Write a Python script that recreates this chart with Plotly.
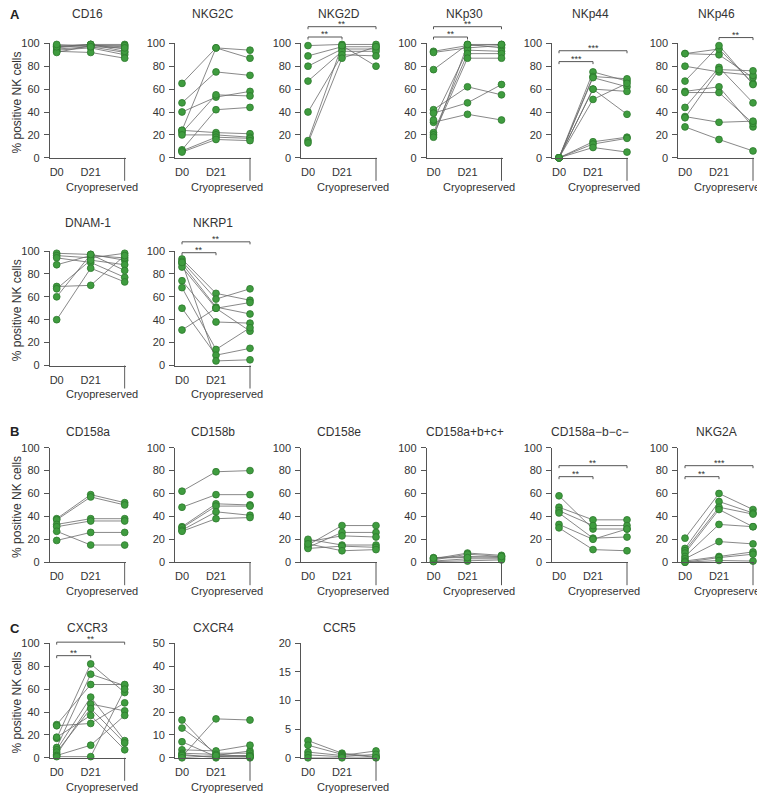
import plotly.graph_objects as go

CATEGORIES = ["D0", "D21", "Cryopreserved"]

# ---------------- Panel A ----------------
CD16_D0 = [98, 97, 96, 95, 94, 93, 92, 97, 99]
CD16_D21 = [99, 98, 99, 97, 96, 92, 98, 99, 97]
CD16_CRYO = [99, 97, 95, 92, 90, 87, 98, 93, 96]

NKG2C_D0 = [65, 24, 48, 40, 22, 7, 24, 20, 6, 5]
NKG2C_D21 = [96, 96, 75, 53, 55, 42, 22, 20, 18, 16]
NKG2C_CRYO = [94, 87, 72, 58, 54, 44, 21, 18, 17, 15]

NKG2D_D0 = [98, 89, 80, 67, 40, 15, 13]
NKG2D_D21 = [99, 97, 95, 93, 90, 98, 87]
NKG2D_CRYO = [99, 97, 95, 93, 89, 80, 97]

NKP30_D0 = [93, 92, 77, 42, 39, 31, 33, 22, 20, 18]
NKP30_D21 = [98, 96, 99, 62, 48, 38, 94, 91, 87, 99]
NKP30_CRYO = [99, 98, 96, 55, 64, 33, 93, 91, 87, 99]

NKP44_D0 = [0, 0, 0, 0, 0, 0, 0, 0, 0]
NKP44_D21 = [75, 71, 70, 60, 60, 51, 14, 12, 9]
NKP44_CRYO = [67, 69, 62, 38, 58, 65, 18, 17, 5]

NKP46_D0 = [91, 91, 80, 67, 58, 57, 44, 36, 35, 27]
NKP46_D21 = [90, 95, 75, 98, 62, 57, 79, 31, 77, 16]
NKP46_CRYO = [70, 65, 72, 64, 27, 30, 48, 32, 76, 6]

DNAM1_D0 = [98, 96, 94, 88, 69, 67, 60, 40]
DNAM1_D21 = [97, 94, 90, 96, 70, 92, 97, 85]
DNAM1_CRYO = [92, 98, 77, 94, 96, 88, 83, 73]

NKRP1_D0 = [93, 91, 89, 86, 74, 68, 50, 31, 90]
NKRP1_D21 = [63, 58, 51, 50, 38, 14, 9, 50, 4]
NKRP1_CRYO = [57, 67, 45, 30, 37, 33, 15, 55, 5]

# ---------------- Panel B ----------------
CD158A_D0 = [38, 37, 33, 31, 19, 27]
CD158A_D21 = [59, 57, 38, 36, 26, 15]
CD158A_CRYO = [52, 50, 38, 36, 26, 15]

CD158B_D0 = [62, 48, 31, 30, 28, 27]
CD158B_D21 = [79, 59, 51, 49, 44, 38]
CD158B_CRYO = [80, 59, 50, 49, 41, 39]

CD158E_D0 = [15, 13, 18, 20, 12, 16]
CD158E_D21 = [32, 26, 23, 15, 14, 10]
CD158E_CRYO = [32, 26, 22, 15, 13, 11]

CD158POS_D0 = [4, 3, 2, 1, 0.5, 3.5]
CD158POS_D21 = [5, 8, 7, 3, 1, 4]
CD158POS_CRYO = [4, 6, 5, 3, 2, 5]

CD158NEG_D0 = [58, 48, 45, 43, 33, 30]
CD158NEG_D21 = [29, 37, 32, 21, 20, 11]
CD158NEG_CRYO = [29, 37, 32, 22, 29, 10]

NKG2A_D0 = [21, 12, 10, 8, 5, 3, 1, 0, 0]
NKG2A_D21 = [60, 53, 48, 46, 33, 18, 5, 4, 1.5]
NKG2A_CRYO = [46, 43, 42, 31, 31, 16, 9, 7, 1]

# ---------------- Panel C ----------------
CXCR3_D0 = [17, 9, 29, 7, 3, 5, 18, 28, 2, 1]
CXCR3_D21 = [82, 73, 64, 53, 47, 43, 37, 30, 11, 1]
CXCR3_CRYO = [57, 63, 64, 15, 41, 13, 7, 48, 37, 60]

CXCR4_D0 = [0.5, 16.5, 13, 7, 3.5, 2, 1.5, 1, 0]
CXCR4_D21 = [17, 1, 2, 0.5, 3, 1.5, 0, 0.5, 1]
CXCR4_CRYO = [16.5, 3, 2, 1, 5.5, 0.5, 0, 1, 0.5]

CCR5_D0 = [3, 2.2, 1, 0.5, 0]
CCR5_D21 = [0.8, 0.6, 0.4, 0.2, 0]
CCR5_CRYO = [0.2, 0.1, 1.2, 0.6, 0]

# panel definitions: (title, row, col, series, ymax, dtick, brackets)
# bracket: (from category idx, to category idx, height in data units, label)
PANELS = [
    ("CD16", 0, 0, (CD16_D0, CD16_D21, CD16_CRYO), 100, 20, []),
    ("NKG2C", 0, 1, (NKG2C_D0, NKG2C_D21, NKG2C_CRYO), 100, 20, []),
    ("NKG2D", 0, 2, (NKG2D_D0, NKG2D_D21, NKG2D_CRYO), 100, 20,
     [(0, 1, 105.5, "**"), (0, 2, 114.5, "**")]),
    ("NKp30", 0, 3, (NKP30_D0, NKP30_D21, NKP30_CRYO), 100, 20,
     [(0, 1, 105.5, "**"), (0, 2, 114.5, "**")]),
    ("NKp44", 0, 4, (NKP44_D0, NKP44_D21, NKP44_CRYO), 100, 20,
     [(0, 1, 84, "***"), (0, 2, 93.5, "***")]),
    ("NKp46", 0, 5, (NKP46_D0, NKP46_D21, NKP46_CRYO), 100, 20,
     [(1, 2, 105, "**")]),
    ("DNAM-1", 1, 0, (DNAM1_D0, DNAM1_D21, DNAM1_CRYO), 100, 20, []),
    ("NKRP1", 1, 1, (NKRP1_D0, NKRP1_D21, NKRP1_CRYO), 100, 20,
     [(0, 1, 98.5, "**"), (0, 2, 108, "**")]),
    ("CD158a", 2, 0, (CD158A_D0, CD158A_D21, CD158A_CRYO), 100, 20, []),
    ("CD158b", 2, 1, (CD158B_D0, CD158B_D21, CD158B_CRYO), 100, 20, []),
    ("CD158e", 2, 2, (CD158E_D0, CD158E_D21, CD158E_CRYO), 100, 20, []),
    ("CD158a+b+c+", 2, 3, (CD158POS_D0, CD158POS_D21, CD158POS_CRYO), 100, 20, []),
    ("CD158a\u2212b\u2212c\u2212", 2, 4, (CD158NEG_D0, CD158NEG_D21, CD158NEG_CRYO), 100, 20,
     [(0, 1, 74.7, "**"), (0, 2, 84.3, "**")]),
    ("NKG2A", 2, 5, (NKG2A_D0, NKG2A_D21, NKG2A_CRYO), 100, 20,
     [(0, 1, 74.7, "**"), (0, 2, 84.3, "***")]),
    ("CXCR3", 3, 0, (CXCR3_D0, CXCR3_D21, CXCR3_CRYO), 100, 20,
     [(0, 1, 89.2, "**"), (0, 2, 101.0, "**")]),
    ("CXCR4", 3, 1, (CXCR4_D0, CXCR4_D21, CXCR4_CRYO), 50, 10, []),
    ("CCR5", 3, 2, (CCR5_D0, CCR5_D21, CCR5_CRYO), 20, 5, []),
]

# ---------------- geometry (pixels) ----------------
W, H = 765, 794
SHIFT = 8.0  # page body margin compensation
COL_D0 = [56.7, 182, 308, 433.5, 559, 685]
UNIT = 34.0
X_RANGE = [-0.2, 2.03]
ROW_TOP = [43.3, 251.0, 447.7, 643.3]
PLOT_H = 114.5
TITLE_Y = [14.5, 223.0, 432.0, 627.5]
LETTERS = [("A", 14.5), ("B", 432.0), ("C", 628.0)]


def px_x(v):
    return (v - SHIFT) / W


def px_y(v):
    return 1 - (v - SHIFT) / H


FONT = "Liberation Sans, Arial, sans-serif"
AXIS_COLOR = "#555555"
TEXT_COLOR = "#333333"
DOT_FILL = "#3f9c3f"
DOT_EDGE = "#2d7a2d"
LINK_COLOR = "#6a6a6a"

fig = go.Figure()
shapes = []
annotations = []
layout_axes = {}

for i, (title, row, col, series, ymax, dtick, brackets) in enumerate(PANELS, start=1):
    xs = "" if i == 1 else str(i)
    xname, yname = "x" + xs, "y" + xs
    d0 = COL_D0[col]
    left = d0 + X_RANGE[0] * UNIT
    right = d0 + X_RANGE[1] * UNIT
    top = ROW_TOP[row]
    bottom = top + PLOT_H

    lx, ly = [], []
    n = len(series[0])
    for k in range(n):
        for c in range(3):
            lx.append(c)
            ly.append(series[c][k])
        lx.append(None)
        ly.append(None)
    fig.add_trace(go.Scatter(
        x=lx, y=ly, mode="lines", xaxis=xname, yaxis=yname,
        line=dict(color=LINK_COLOR, width=0.8), hoverinfo="skip",
        showlegend=False, cliponaxis=False))
    mx, my = [], []
    for c in range(3):
        mx += [c] * len(series[c])
        my += list(series[c])
    fig.add_trace(go.Scatter(
        x=mx, y=my, mode="markers", xaxis=xname, yaxis=yname,
        marker=dict(size=6.8, color=DOT_FILL, line=dict(color=DOT_EDGE, width=0.8)),
        showlegend=False, cliponaxis=False))

    layout_axes["xaxis" + xs] = dict(
        domain=[px_x(left), px_x(right)], anchor=yname, range=X_RANGE,
        tickmode="array", tickvals=[0, 1], ticktext=CATEGORIES[:2],
        ticks="", showline=True, linecolor=AXIS_COLOR, linewidth=1,
        showgrid=False, zeroline=False, ticklabelstandoff=4, automargin=False,
        tickfont=dict(family=FONT, size=11, color=TEXT_COLOR), fixedrange=True)
    layout_axes["yaxis" + xs] = dict(
        domain=[px_y(bottom), px_y(top)], anchor=xname, range=[0, ymax],
        tickmode="linear", tick0=0, dtick=dtick,
        ticks="outside", ticklen=5, tickwidth=1, tickcolor=AXIS_COLOR,
        showline=True, linecolor=AXIS_COLOR, linewidth=1,
        showgrid=False, zeroline=False, ticklabelstandoff=2, automargin=False,
        tickfont=dict(family=FONT, size=11, color=TEXT_COLOR), fixedrange=True)

    shapes.append(dict(type="line", xref=xname, yref=yname + " domain",
                       x0=2, x1=2, y0=0, y1=-23 / PLOT_H,
                       line=dict(color=AXIS_COLOR, width=1)))
    annotations.append(dict(text=CATEGORIES[2], xref=xname, yref=yname + " domain",
                            x=2, y=-29 / PLOT_H, xshift=-23, showarrow=False,
                            xanchor="center", yanchor="middle",
                            font=dict(family=FONT, size=11, color=TEXT_COLOR)))

    annotations.append(dict(text=title, xref="paper", yref="paper",
                            x=px_x((left + right) / 2), y=px_y(TITLE_Y[row]),
                            showarrow=False, xanchor="center", yanchor="middle",
                            font=dict(family=FONT, size=12, color=TEXT_COLOR)))

    tick_h = 2.5 / PLOT_H
    for (a, b, h, label) in brackets:
        yf = h / ymax
        shapes.append(dict(type="line", xref=xname, yref=yname + " domain",
                           x0=a, x1=b, y0=yf, y1=yf,
                           line=dict(color=AXIS_COLOR, width=1)))
        for xe in (a, b):
            shapes.append(dict(type="line", xref=xname, yref=yname + " domain",
                               x0=xe, x1=xe, y0=yf, y1=yf - tick_h,
                               line=dict(color=AXIS_COLOR, width=1)))
        annotations.append(dict(text=label, xref=xname, yref=yname + " domain",
                                x=(a + b) / 2, y=yf, yshift=-4, showarrow=False,
                                xanchor="center", yanchor="bottom",
                                font=dict(family=FONT, size=9, color=TEXT_COLOR)))

for row in range(4):
    yc = ROW_TOP[row] + PLOT_H / 2 + 2
    annotations.append(dict(text="% positive NK cells", xref="paper", yref="paper",
                            x=0, y=px_y(yc), textangle=-90, showarrow=False,
                            xanchor="left", yanchor="middle",
                            font=dict(family=FONT, size=12, color=TEXT_COLOR)))

for letter, ly in LETTERS:
    annotations.append(dict(text="<b>" + letter + "</b>", xref="paper", yref="paper",
                            x=0, y=px_y(ly), showarrow=False,
                            xanchor="left", yanchor="middle",
                            font=dict(family=FONT, size=13, color="#222222")))

fig.update_layout(
    width=W, height=H, autosize=False,
    margin=dict(l=0, r=0, t=0, b=0, pad=0),
    paper_bgcolor="white", plot_bgcolor="white",
    showlegend=False, shapes=shapes, annotations=annotations,
    font=dict(family=FONT, color=TEXT_COLOR),
    **layout_axes)

fig.write_html("out.html", config={"displayModeBar": False})
